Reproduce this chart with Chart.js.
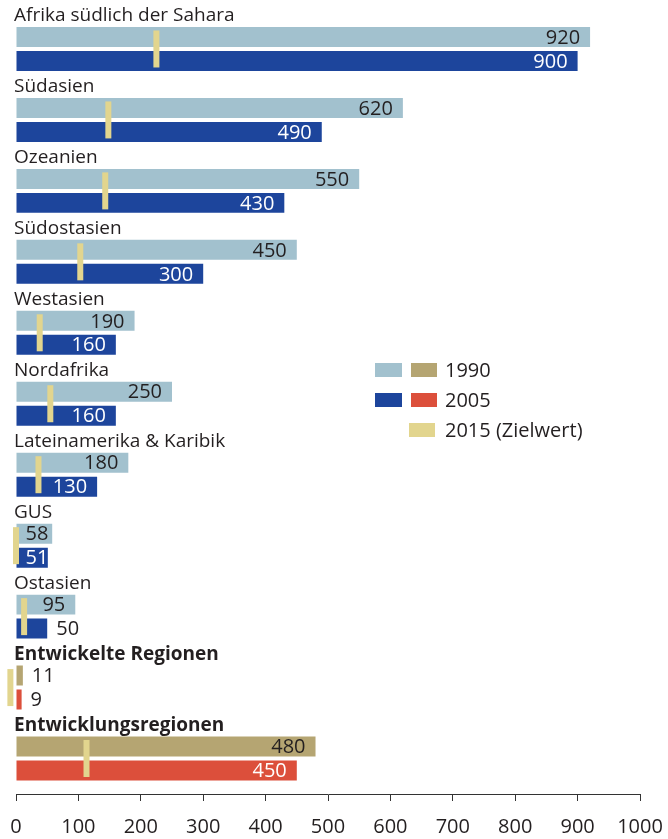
<!DOCTYPE html>
<html>
<head>
<meta charset="utf-8">
<script src="https://cdn.jsdelivr.net/npm/chart.js@4"></script>
<style>
  html, body { margin: 0; padding: 0; background: #fff; }
  #wrap { width: 668px; height: 839px; }
</style>
</head>
<body>
<div id="wrap"><canvas id="chart"></canvas></div>
<script>
// Müttersterblichkeit je 100 000 Lebendgeburten
const regions = [
  "Afrika südlich der Sahara", "Südasien", "Ozeanien", "Südostasien", "Westasien",
  "Nordafrika", "Lateinamerika & Karibik", "GUS", "Ostasien",
  "Entwickelte Regionen", "Entwicklungsregionen"
];
const boldRegions = ["Entwickelte Regionen", "Entwicklungsregionen"];
const values1990 = [920, 620, 550, 450, 190, 250, 180, 58, 95, 11, 480];
const values2005 = [900, 490, 430, 300, 160, 160, 130, 51, 50, 9, 450];
const target2015 = [225, 148, 143, 103, 38, 55, 36, 0, 13, -9, 113];
const xTicks = [0, 100, 200, 300, 400, 500, 600, 700, 800, 900, 1000];
const legendLabels = ["1990", "2005", "2015 (Zielwert)"];

const LIGHTBLUE = "#a2c1ce";
const DARKBLUE = "#1d459c";
const TAN = "#b5a572";
const RED = "#dc4f3b";
const YELLOW = "#e2d58e";
const TEXT = "#231f20";
const FONT = "'Open Sans', 'Noto Sans', sans-serif";

const isBold = r => boldRegions.includes(r);
const colors1990 = regions.map(r => isBold(r) ? TAN : LIGHTBLUE);
const colors2005 = regions.map(r => isBold(r) ? RED : DARKBLUE);

const noPad = s => { s.paddingLeft = 0; s.paddingRight = 0; s.paddingTop = 0; s.paddingBottom = 0; };

const labelPlugin = {
  id: "labels",
  afterDatasetsDraw(chart) {
    const ctx = chart.ctx;
    const xs = chart.scales.x;
    const ys = chart.scales.y;
    const left = chart.chartArea.left;
    ctx.save();

    // region names above each pair of bars
    ctx.fillStyle = TEXT;
    ctx.textAlign = "left";
    ctx.textBaseline = "alphabetic";
    regions.forEach((r, i) => {
      ctx.font = (isBold(r) ? "bold " : "") + "19px " + FONT;
      ctx.fillText(r, left - 2, ys.getPixelForValue(i) - 28);
    });

    // value labels
    ctx.font = "20px " + FONT;
    ctx.textBaseline = "middle";
    chart.data.datasets.forEach((ds, d) => {
      if (ds.type !== "bar") return;
      const darkBar = ds.label === legendLabels[1];
      chart.getDatasetMeta(d).data.forEach((bar, i) => {
        const txt = String(ds.data[i]);
        const tw = ctx.measureText(txt).width;
        const start = bar.base, end = bar.x;
        const w = end - start;
        const mx = xs.getPixelForValue(target2015[i]);
        let x, align, inside = true;
        if (w - tw >= 20) {
          x = end - 10; align = "right";
        } else if (w >= tw + 6 && !(mx + 3 > start + 9 && mx - 3 < start + 9 + tw)) {
          x = start + 9; align = "left";
        } else {
          x = end + 9; align = "left"; inside = false;
        }
        ctx.textAlign = align;
        ctx.fillStyle = inside && darkBar ? "#ffffff" : TEXT;
        ctx.fillText(txt, x, bar.y + 1);
      });
    });
    ctx.restore();
  },
  afterDraw(chart) {
    // legend with paired swatches
    const ctx = chart.ctx;
    ctx.save();
    const rows = [
      [LIGHTBLUE, TAN],
      [DARKBLUE, RED],
      [null, YELLOW]
    ];
    rows.forEach((pair, k) => {
      const cy = 370 + k * 30;
      if (pair[0]) {
        ctx.fillStyle = pair[0];
        ctx.fillRect(375, cy - 7, 27, 14);
      }
      ctx.fillStyle = pair[1];
      ctx.fillRect(k === 2 ? 409 : 411, cy - 7, 26, 14);
      ctx.fillStyle = TEXT;
      ctx.font = "20px " + FONT;
      ctx.textAlign = "left";
      ctx.textBaseline = "middle";
      ctx.fillText(legendLabels[k], 445, cy + 1);
    });
    ctx.restore();
  }
};

new Chart(document.getElementById("chart"), {
  data: {
    labels: regions,
    datasets: [
      {
        type: "bar",
        label: legendLabels[0],
        data: values1990,
        indexAxis: "y",
        backgroundColor: colors1990,
        categoryPercentage: 0.676,
        barPercentage: 0.833,
        order: 1
      },
      {
        type: "bar",
        label: legendLabels[1],
        data: values2005,
        indexAxis: "y",
        backgroundColor: colors2005,
        categoryPercentage: 0.676,
        barPercentage: 0.833,
        order: 1
      },
      {
        type: "line",
        label: legendLabels[2],
        data: target2015,
        indexAxis: "y",
        showLine: false,
        pointStyle: "line",
        pointRotation: 90,
        pointRadius: 18.5,
        pointHoverRadius: 18.5,
        pointBorderWidth: 6,
        pointBorderColor: YELLOW,
        pointBackgroundColor: YELLOW,
        clip: false,
        order: 0
      }
    ]
  },
  options: {
    indexAxis: "y",
    responsive: true,
    maintainAspectRatio: false,
    animation: false,
    layout: { autoPadding: false, padding: { top: 13.5, left: 16, right: 28, bottom: 0 } },
    plugins: { legend: { display: false }, tooltip: { enabled: false } },
    scales: {
      y: { type: "category", display: false, offset: true, afterFit: noPad },
      x: {
        type: "linear",
        position: "bottom",
        min: 0,
        max: 1000,
        afterBuildTicks: s => { s.ticks = xTicks.map(v => ({ value: v })); },
        afterFit: s => { noPad(s); s.height = 45; },
        ticks: { color: TEXT, font: { family: FONT, size: 20 }, padding: 14, callback: v => String(v) },
        grid: { drawOnChartArea: false, tickLength: 7, color: "#333", tickWidth: 1 },
        border: { color: "#333", width: 1 }
      }
    }
  },
  plugins: [labelPlugin]
});
</script>
</body>
</html>
